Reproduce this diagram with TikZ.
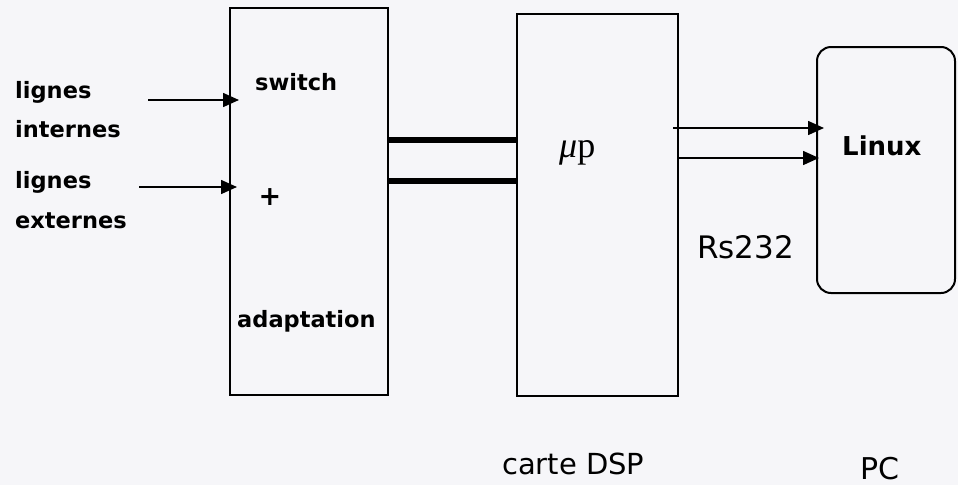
\documentclass[tikz,border=0pt]{standalone}
\usepackage{fontspec}
\setmainfont{DejaVu Sans}
\newfontfamily\serifx{Liberation Serif}
\usetikzlibrary{arrows.meta}
\begin{document}
\begin{tikzpicture}[x=1pt,y=-1pt,
  blk/.style={draw=black, line width=2pt, inner sep=0pt, fill=none},
  rblk/.style={blk, rounded corners=14pt},
  arr/.style={line width=1.6pt, -{Triangle[length=16pt,width=14pt]}},
  bus/.style={line width=5.5pt},
  lbl/.style={inner sep=0pt, anchor=base west, font=\fontsize{22.5}{27}\selectfont\bfseries},
  rlbl/.style={inner sep=0pt, anchor=base west, font=\fontsize{31}{36}\selectfont}]
\definecolor{paper}{RGB}{246,246,249}
\fill[paper] (0,0) rectangle (958,485);
\useasboundingbox (0,0) rectangle (958,485);
% boxes
\node[blk, minimum width=158pt, minimum height=387pt] (sw) at (309,201.5) {};
\node[blk, minimum width=161pt, minimum height=382pt] (dsp) at (597.5,205) {};
\node[rblk, minimum width=138pt, minimum height=246pt] (pc) at (886,170) {};
% labels
\node[lbl] (l1) at (15,98) {lignes};
\node[lbl] (l2) at (15,137) {internes};
\node[lbl] (l3) at (15,188) {lignes};
\node[lbl] (l4) at (15,228) {externes};
\node[lbl] (tsw) at (255,90) {switch};
\node[lbl, anchor=center, font=\fontsize{27}{30}\selectfont\bfseries] (tplus) at (270,197) {+};
\node[lbl] (tad) at (237,327) {adaptation};
\node[inner sep=0pt, anchor=base west, font=\fontsize{36}{40}\selectfont\serifx] (tmu) at (559,157) {\textit{μ}p};
\node[lbl, font=\fontsize{26}{30}\selectfont\bfseries] (tlx) at (842,155) {Linux};
\node[rlbl] (trs) at (697,258) {Rs232};
\node[rlbl, font=\fontsize{29}{34}\selectfont] (tdsp) at (502,474) {carte DSP};
\node[rlbl, font=\fontsize{30}{34}\selectfont] (tpc) at (860,479) {PC};
% input arrows
\coordinate (in1) at (148,100);
\coordinate (in2) at (139,187);
\draw[arr, shorten >=-10pt] (in1) -- (sw.west |- in1);
\draw[arr, shorten >=-8pt] (in2) -- (sw.west |- in2);
% bus lines
\draw[bus] (sw.east |- 0,140) -- (dsp.west |- 0,140);
\draw[bus] (sw.east |- 0,181) -- (dsp.west |- 0,181);
% RS232 arrows
\draw[arr, shorten >=-8pt, shorten <=-6pt] (dsp.east |- 0,128) -- (pc.west |- 0,128);
\draw[arr, shorten >=-3pt] (dsp.east |- 0,158) -- (pc.west |- 0,158);
\end{tikzpicture}
\end{document}
